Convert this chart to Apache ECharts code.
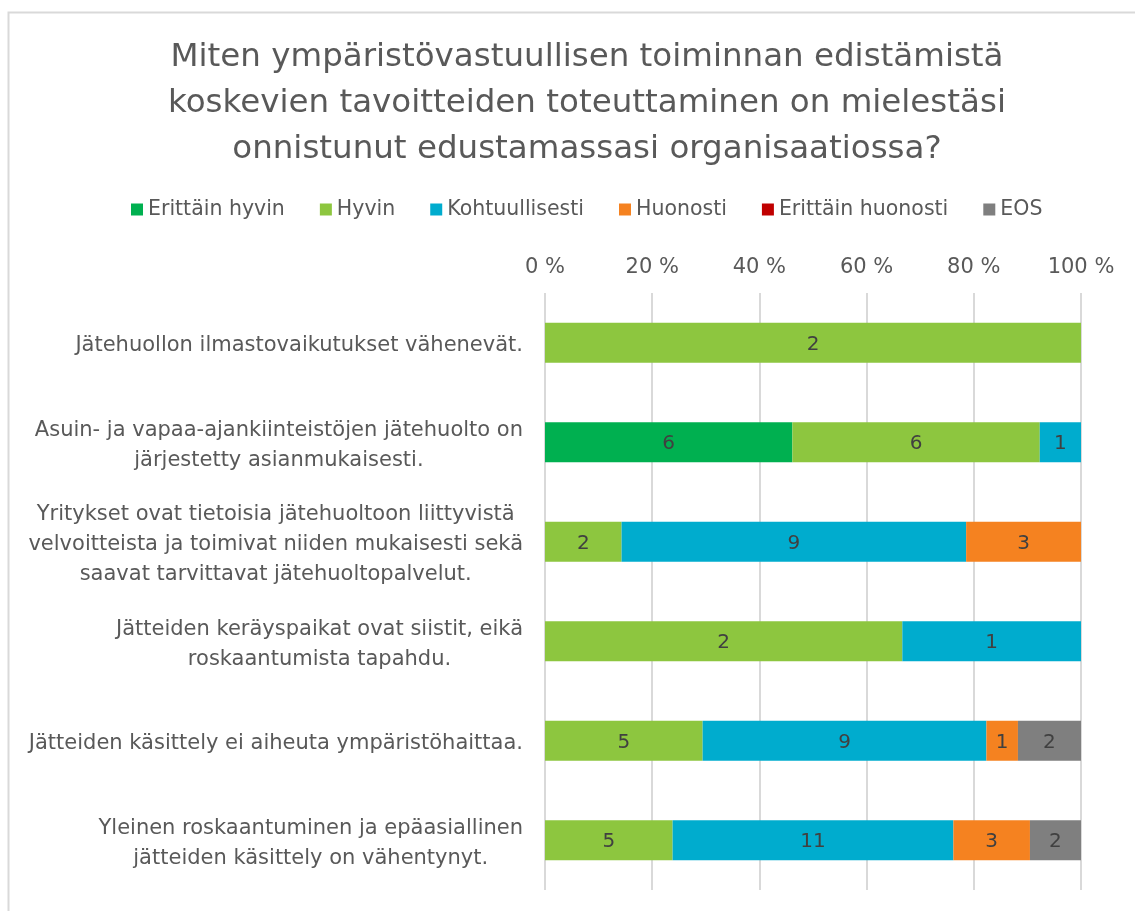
<!DOCTYPE html>
<html>
<head>
<meta charset="utf-8">
<script src="https://cdn.jsdelivr.net/npm/echarts@6/dist/echarts.min.js"></script>
<style>
html, body { margin: 0; padding: 0; background: #fff; }
#main { width: 1135px; height: 911px; }
</style>
</head>
<body>
<div id="main"></div>
<script>
var categories = [
	'Jätehuollon ilmastovaikutukset vähenevät.',
	'Asuin- ja vapaa-ajankiinteistöjen jätehuolto on\njärjestetty asianmukaisesti.',
	'Yritykset ovat tietoisia jätehuoltoon liittyvistä\nvelvoitteista ja toimivat niiden mukaisesti sekä\nsaavat tarvittavat jätehuoltopalvelut.',
	'Jätteiden keräyspaikat ovat siistit, eikä\nroskaantumista tapahdu.',
	'Jätteiden käsittely ei aiheuta ympäristöhaittaa.',
	'Yleinen roskaantuminen ja epäasiallinen\njätteiden käsittely on vähentynyt.'
];
var seriesNames = ['Erittäin hyvin', 'Hyvin', 'Kohtuullisesti', 'Huonosti', 'Erittäin huonosti', 'EOS'];
var seriesColors = ['#00b050', '#8dc63f', '#00acce', '#f58220', '#c00000', '#7f7f7f'];

// vastausten lukumäärät
var erittainHyvin    = [0, 6, 0, 0, 0, 0];
var hyvin            = [2, 6, 2, 2, 5, 5];
var kohtuullisesti   = [0, 1, 9, 1, 9, 11];
var huonosti         = [0, 0, 3, 0, 1, 3];
var erittainHuonosti = [0, 0, 0, 0, 0, 0];
var eos              = [0, 0, 0, 0, 2, 2];

var counts = [erittainHyvin, hyvin, kohtuullisesti, huonosti, erittainHuonosti, eos];
var totals = categories.map(function(c, i) {
	return counts.reduce(function(s, arr) { return s + arr[i]; }, 0);
});

var font = "'DejaVu Sans', Verdana, sans-serif";

var series = counts.map(function(arr, k) {
	return {
		name: seriesNames[k],
		type: 'bar',
		stack: 'total',
		barWidth: 40,
		itemStyle: { color: seriesColors[k] },
		label: {
			show: true,
			position: 'inside',
			offset: [0, 2],
			color: '#404040',
			fontSize: 20,
			fontFamily: font,
			formatter: function(p) { return p.data.count ? String(p.data.count) : ''; }
		},
		data: arr.map(function(v, i) {
			return { value: v / totals[i] * 100, count: v };
		})
	};
});

var dom = document.getElementById('main');
var myChart = echarts.init(dom);

myChart.setOption({
	animation: false,
	textStyle: { fontFamily: font },
	title: {
		text: 'Miten ympäristövastuullisen toiminnan edistämistä\nkoskevien tavoitteiden toteuttaminen on mielestäsi\nonnistunut edustamassasi organisaatiossa?',
		left: 582,
		textAlign: 'center',
		top: 30,
		textStyle: {
			fontSize: 32.5,
			fontWeight: 'normal',
			color: '#595959',
			lineHeight: 46,
			fontFamily: font
		}
	},
	legend: {
		top: 194,
		left: 126,
		itemWidth: 12,
		itemHeight: 12,
		itemGap: 35,
		icon: 'rect',
		textStyle: { fontSize: 20.5, color: '#595959', fontFamily: font },
		data: seriesNames
	},
	grid: { left: 545, right: 54, top: 293, bottom: 21 },
	xAxis: {
		type: 'value',
		position: 'top',
		min: 0,
		max: 100,
		interval: 20,
		axisLine: { show: false },
		axisTick: { show: false },
		splitLine: { lineStyle: { color: '#d9d9d9', width: 2 } },
		axisLabel: {
			formatter: '{value} %',
			fontSize: 21,
			color: '#595959',
			margin: 15,
			fontFamily: font
		}
	},
	yAxis: {
		type: 'category',
		inverse: true,
		data: categories,
		axisLine: { show: false },
		axisTick: { show: false },
		axisLabel: {
			margin: 22,
			padding: [6, 0, 0, 0],
			formatter: function(v) {
				return v.split('\n').map(function(l) { return '{c|' + l + '}'; }).join('\n');
			},
			rich: {
				c: { align: 'center', fontSize: 21, lineHeight: 30, color: '#595959', fontFamily: font }
			}
		}
	},
	graphic: [{
		type: 'rect',
		left: 6,
		top: 10,
		shape: { width: 1200, height: 1000 },
		style: { fill: 'none', stroke: '#d9d9d9', lineWidth: 2 },
		silent: true
	}],
	series: series
});
</script>
</body>
</html>
